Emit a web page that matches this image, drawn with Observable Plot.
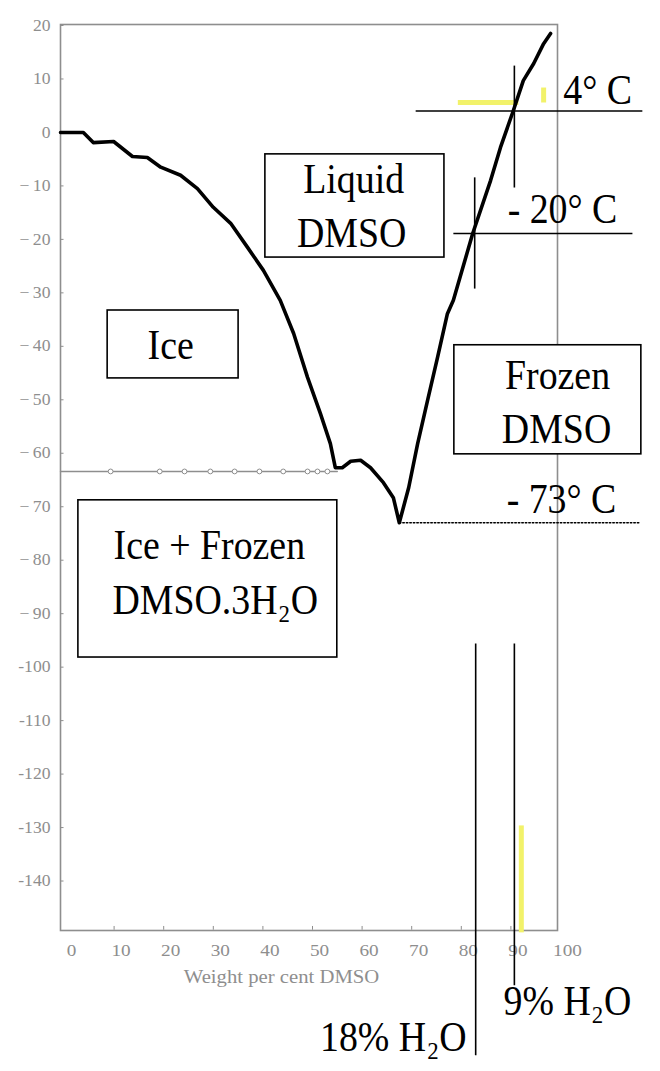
<!DOCTYPE html>
<html><head><meta charset="utf-8">
<script src="https://cdn.jsdelivr.net/npm/d3@7"></script>
<script src="https://cdn.jsdelivr.net/npm/@observablehq/plot@0.6"></script>
<style>body{margin:0;background:#fff}</style>
</head><body><div id="chart"></div>
<script>
// ---- data (weight % DMSO, temperature °C) ----
const curveX = [-0.8, 3.8, 5.8, 9.9, 13.7, 16.7, 19.4, 23.4, 26.8, 30.0, 33.5, 36.9, 40.1, 43.5, 46.2, 49.0, 51.6, 53.6, 54.6, 56.0, 57.7, 59.7, 61.7, 64.3, 66.3, 67.5, 69.4, 71.2, 73.2, 75.2, 77.2, 78.4, 82.3, 85.9, 87.9, 90.5, 92.5, 94.6, 96.6, 98.0];
const curveY = [0, 0, -1.9, -1.7, -4.5, -4.7, -6.5, -8.0, -10.5, -14.0, -17.0, -21.5, -25.8, -31.4, -37.6, -45.8, -52.6, -58.2, -62.7, -62.7, -61.5, -61.3, -62.7, -65.5, -68.3, -73.0, -66.4, -58.2, -50.1, -42.1, -33.9, -31.4, -18.9, -9.0, -2.8, 4.1, 9.7, 12.9, 16.6, 18.5];

const eutecticY = -63.4;
const eutecticLineX = [-0.8, 55.0];
const eutecticMarkerX = [9.3, 19.2, 24.2, 29.4, 34.3, 39.3, 44.1, 49.0, 51.0, 53.0];

const minimumY = -73;
const minimumLineX = [67.5, 116.0];

const annoX1 = [70.8, 90.7, 78.4, 82.7, 82.9, 90.7];
const annoY1 = [4, 12.5, -18.9, -8.4, -95.6, -95.6];
const annoX2 = [116.5, 90.7, 114.5, 82.7, 82.9, 90.7];
const annoY2 = [4, -10.3, -18.9, -29.2, -172.6, -159.5];

const hiliteX1 = [79.3, 96.6, 92.1];
const hiliteY1 = [5.6, 8.4, -129.6];
const hiliteX2 = [91.5, 96.6, 92.1];
const hiliteY2 = [5.6, 5.6, -149.6];

const boxX1 = [40.5, 8.7, 2.8, 78.6];
const boxX2 = [76.6, 35.1, 55.0, 116.3];
const boxY1 = [-4.1, -33.3, -68.8, -39.8];
const boxY2 = [-23.4, -46.0, -98.2, -60.2];

const labelText = ["Liquid", "DMSO", "Ice", "Ice + Frozen", "DMSO.3H₂O", "Frozen", "DMSO", "- 73° C", "- 20° C", "4° C", "9% H₂O", "18% H₂O"];
const labelX = [58.3, 57.9, 21.4, 29.2, 30.4, 99.4, 99.2, 100.2, 100.4, 107.5, 101.4, 66.3];
const labelY = [-11.4, -21.5, -42.3, -79.7, -90.0, -47.9, -58.0, -71.1, -17.0, 5.4, -165.1, -171.7];

const xTicks = [0, 10, 20, 30, 40, 50, 60, 70, 80, 90, 100];
const yTicks = [20, 10, 0, -10, -20, -30, -40, -50, -60, -70, -80, -90, -100, -110, -120, -130, -140];
const xAxisLabel = "Weight per cent DMSO";

// ---- tables ----
const curve = curveX.map((x, i) => ({x, y: curveY[i]}));
const eutLine = eutecticLineX.map(x => ({x, y: eutecticY}));
const eutDots = eutecticMarkerX.map(x => ({x, y: eutecticY}));
const minLine = minimumLineX.map(x => ({x, y: minimumY}));
const anno = annoX1.map((x1, i) => ({x1, y1: annoY1[i], x2: annoX2[i], y2: annoY2[i]}));
const hilite = hiliteX1.map((x1, i) => ({x1, y1: hiliteY1[i], x2: hiliteX2[i], y2: hiliteY2[i]}));
const boxes = boxX1.map((x1, i) => ({x1, x2: boxX2[i], y1: boxY1[i], y2: boxY2[i]}));
const labels = labelText.map((t, i) => ({t, x: labelX[i], y: labelY[i]}));

const gray = "#8e8e8e";
const serif = "'Liberation Serif', 'Times New Roman', serif";
const fmtY = v => v < 0 ? (v <= -100 ? "-" : "\u2212\u2009") + Math.abs(v) : String(v);

const svg = Plot.plot({
  width: 660, height: 1071,
  marginLeft: 64, marginRight: 100, marginTop: 25, marginBottom: 137,
  x: {domain: [0, 100]},
  y: {domain: [-150, 20]},
  style: {fontFamily: serif, fontSize: "16px", background: "#fff", overflow: "visible"},
  marks: [
    Plot.frame({stroke: gray, strokeWidth: 1.6, insetLeft: -4, insetRight: 3, insetTop: -1, insetBottom: 4}),
    Plot.ruleY(yTicks.filter(v => v > -150), {x1: -0.8, x2: -0.1, stroke: gray}),
    Plot.ruleX(xTicks.slice(1, -1), {y1: -149.2, y2: -148.5, stroke: gray}),
    Plot.axisY({ticks: yTicks, tickFormat: fmtY, tickSize: 0, tickPadding: 10, dx: -4, label: null, color: gray, fontSize: 16}),
    Plot.axisX({ticks: xTicks, tickSize: 0, tickPadding: 10, dx: 7, label: null, color: gray, fontSize: 16}),
    Plot.text([xAxisLabel], {frameAnchor: "bottom", dx: -31, dy: 48, fill: gray, fontSize: 18}),
    Plot.link(hilite, {x1: "x1", y1: "y1", x2: "x2", y2: "y2", stroke: "#f2f26a", strokeWidth: 5}),
    Plot.line(eutLine, {x: "x", y: "y", stroke: gray, strokeWidth: 1.4}),
    Plot.dot(eutDots, {x: "x", y: "y", r: 2.4, stroke: gray, fill: "white", strokeWidth: 1}),
    Plot.rect(boxes, {x1: "x1", x2: "x2", y1: "y1", y2: "y2", fill: "white", stroke: "black", strokeWidth: 1.6}),
    Plot.line(minLine, {x: "x", y: "y", stroke: "black", strokeWidth: 1.5, strokeDasharray: "1.5,2"}),
    Plot.link(anno, {x1: "x1", y1: "y1", x2: "x2", y2: "y2", stroke: "black", strokeWidth: 1.6}),
    Plot.line(curve, {x: "x", y: "y", stroke: "black", strokeWidth: 3.6, strokeLinejoin: "round", strokeLinecap: "round"}),
    Plot.text(labels, {x: "x", y: "y", text: "t", fontSize: 43, fill: "black", lineAnchor: "bottom", textAnchor: "middle"})
  ]
});
document.getElementById("chart").append(svg);

// scanned text proportions (condensed / widened as in the scan)
function stretch(sel, f) {
  svg.querySelectorAll(sel).forEach(t => {
    const L = t.getComputedTextLength();
    t.setAttribute("textLength", (L * f).toFixed(1));
    t.setAttribute("lengthAdjust", "spacingAndGlyphs");
  });
}
stretch('g[font-size="43"] text', 0.88);
stretch('g[font-size="18"] text', 1.15);
stretch('g[aria-label="x-axis tick label"] text', 1.2);
stretch('g[aria-label="y-axis tick label"] text', 1.1);
</script>
</body></html>
